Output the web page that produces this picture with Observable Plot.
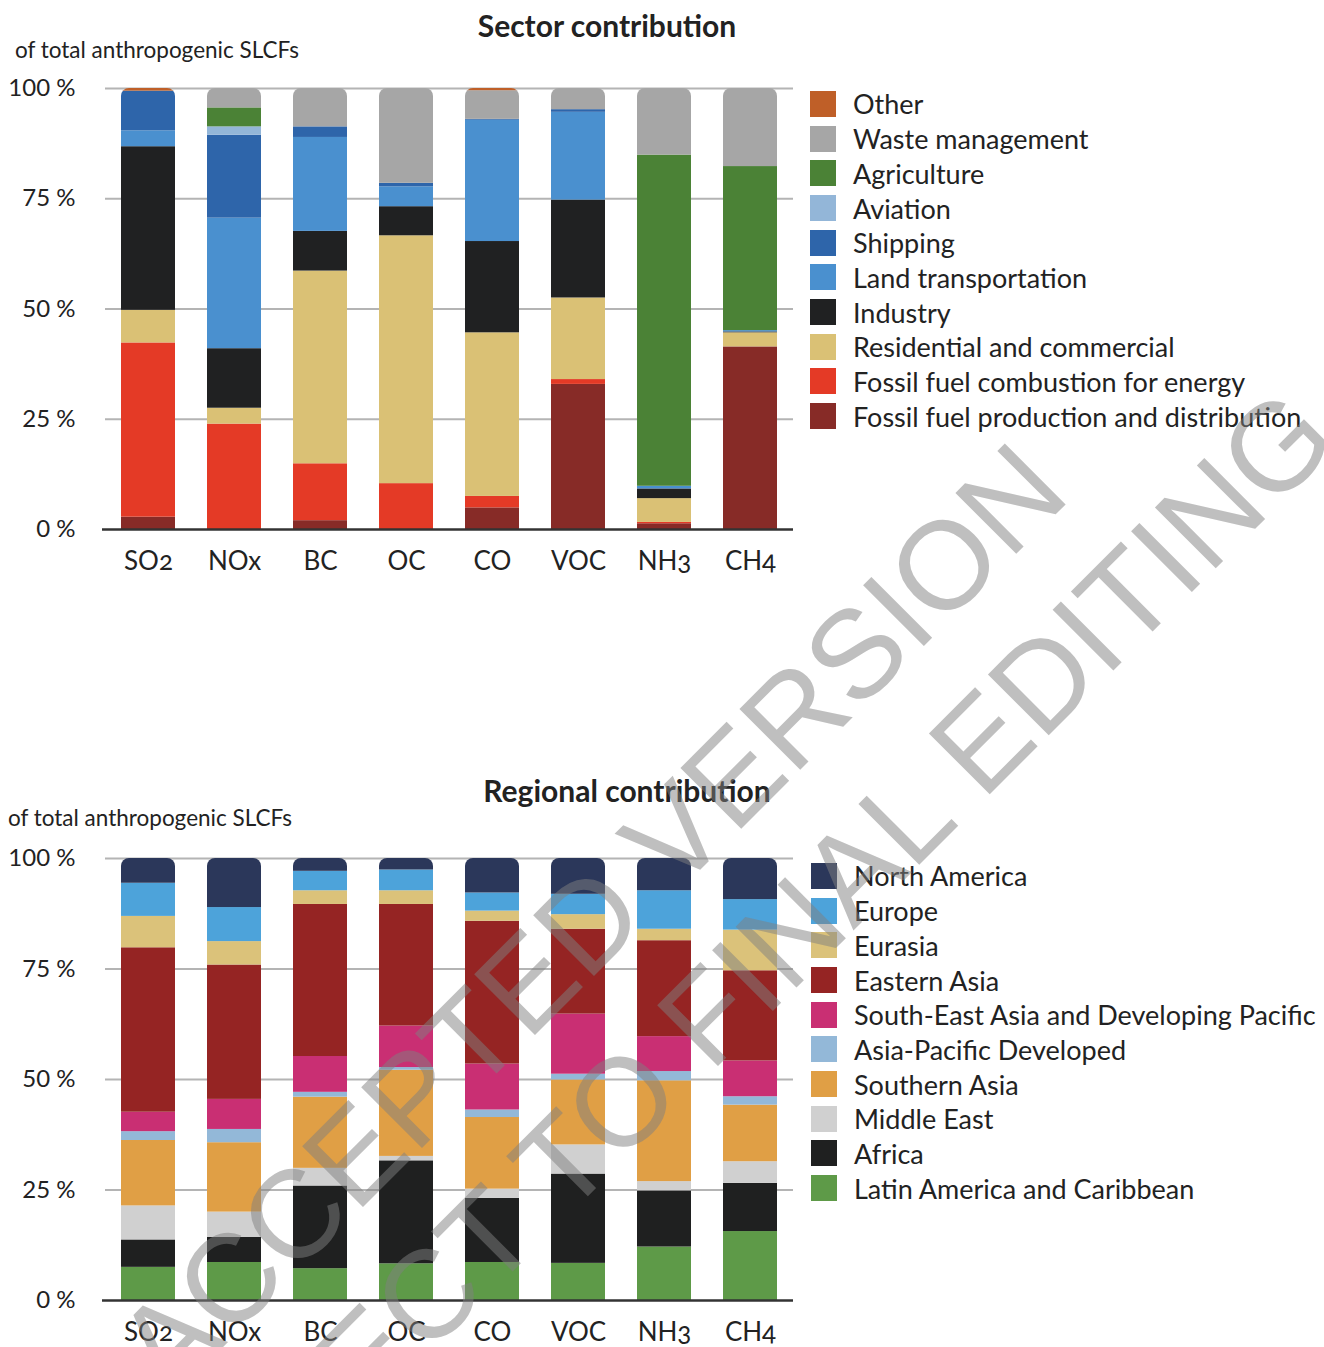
<!DOCTYPE html>
<html><head><meta charset="utf-8">
<script src="https://cdn.jsdelivr.net/npm/d3@7"></script>
<script src="https://cdn.jsdelivr.net/npm/@observablehq/plot@0.6"></script>
<style>
html,body{margin:0;padding:0;background:#fff;}
body{width:1324px;height:1347px;position:relative;overflow:hidden;font-family:Lato,"Noto Sans",sans-serif;color:#222;}
.title{position:absolute;font-weight:bold;font-size:30px;line-height:30px;transform:translateX(-50%);white-space:nowrap;}
.sub{position:absolute;font-size:22.5px;line-height:22.5px;white-space:nowrap;}
.chart{position:absolute;left:0;}
.legend{position:absolute;}
.legend .row{display:flex;align-items:center;height:34.7px;}
.legend .sw{width:26px;height:26px;margin-right:17px;flex:none;}
.legend .lab{font-size:27px;white-space:nowrap;}
.wm{position:absolute;left:0;top:0;pointer-events:none;}
</style></head><body>
<div class="title" style="left:607px;top:10px">Sector contribution</div>
<div class="sub" style="left:15px;top:39px">of total anthropogenic SLCFs</div>
<div id="c1" class="chart" style="top:60px"></div>
<div id="l1" class="legend" style="left:810px;top:86.6px"></div>
<div class="title" style="left:627px;top:775px">Regional contribution</div>
<div class="sub" style="left:8px;top:807px">of total anthropogenic SLCFs</div>
<div id="c2" class="chart" style="top:830px"></div>
<div id="l2" class="legend" style="left:811px;top:858.6px"></div>
<svg class="wm" width="1324" height="1347">
  <g font-family="'Liberation Sans', Arial, sans-serif" font-size="125" fill="#808080" fill-opacity="0.5" text-anchor="middle">
    <text transform="translate(621,949) rotate(-45)">ACCEPTED VERSION</text>
    <text transform="translate(741,1043) rotate(-45)">SUBJECT TO FINAL EDITING</text>
  </g>
</svg>
<script>
// ---- categories ----
const pollutants = ["SO2", "NOx", "BC", "OC", "CO", "VOC", "NH3", "CH4"];
const yTicks = [0, 25, 50, 75, 100];

// ---- sectors (stack order bottom -> top) ----
const sectors = ["Fossil fuel production and distribution", "Fossil fuel combustion for energy",
  "Residential and commercial", "Industry", "Land transportation", "Shipping", "Aviation",
  "Agriculture", "Waste management", "Other"];
const sectorColors = ["#872b27", "#e43a26", "#dac175", "#202122", "#4a90cf", "#2e65aa",
  "#93b6d8", "#4b8236", "#a6a6a6", "#bf5f28"];
const sectorSO2 = [2.8, 39.5, 7.4, 37.1, 3.6, 9.0, 0, 0, 0, 0.6];
const sectorNOx = [0, 23.9, 3.6, 13.5, 29.6, 18.8, 1.9, 4.3, 4.4, 0];
const sectorBC  = [2.0, 12.9, 43.7, 9.0, 21.3, 2.4, 0, 0, 8.7, 0];
const sectorOC  = [0, 10.4, 56.2, 6.6, 4.5, 0.8, 0, 0, 21.5, 0];
const sectorCO  = [4.9, 2.6, 37.1, 20.7, 27.5, 0.2, 0, 0, 6.5, 0.5];
const sectorVOC = [32.9, 1.1, 18.5, 22.2, 19.9, 0.6, 0, 0, 4.8, 0];
const sectorNH3 = [1.3, 0.3, 5.4, 2.2, 0.6, 0, 0, 75.1, 15.1, 0];
const sectorCH4 = [41.4, 0, 3.2, 0.2, 0.3, 0, 0, 37.2, 17.7, 0];

// ---- regions (stack order bottom -> top) ----
const regions = ["Latin America and Caribbean", "Africa", "Middle East", "Southern Asia",
  "Asia-Pacific Developed", "South-East Asia and Developing Pacific", "Eastern Asia",
  "Eurasia", "Europe", "North America"];
const regionColors = ["#5e9a48", "#1f2020", "#d0d0d0", "#e09f45", "#93b8d8", "#c92f73",
  "#952423", "#dbc27a", "#4da3da", "#2b375a"];
const regionSO2 = [7.5, 6.2, 7.7, 14.8, 2.0, 4.4, 37.2, 7.1, 7.5, 5.6];
const regionNOx = [8.6, 5.7, 5.7, 15.7, 3.0, 6.8, 30.4, 5.3, 7.7, 11.1];
const regionBC  = [7.2, 18.7, 4.0, 16.1, 1.1, 8.1, 34.4, 3.1, 4.4, 2.9];
const regionOC  = [8.3, 23.3, 1.0, 19.5, 0.6, 9.4, 27.5, 3.1, 4.7, 2.6];
const regionCO  = [8.6, 14.5, 2.1, 16.2, 1.7, 10.4, 32.3, 2.3, 4.1, 7.8];
const regionVOC = [8.4, 20.2, 6.6, 14.7, 1.3, 13.6, 19.2, 3.3, 4.6, 8.1];
const regionNH3 = [12.1, 12.7, 2.1, 22.8, 2.1, 7.9, 21.7, 2.6, 8.7, 7.3];
const regionCH4 = [15.6, 10.9, 4.9, 12.8, 1.9, 8.1, 20.4, 9.2, 6.9, 9.3];

function toRows(groups, valueLists) {
  const rows = [];
  pollutants.forEach((p, i) => valueLists[i].forEach((v, j) => rows.push({pollutant: p, group: groups[j], value: v})));
  return rows;
}

function roundTops(svg, r) {
  const rects = Array.from(svg.querySelectorAll('g[aria-label="bar"] rect'));
  const byX = d3.group(rects, el => el.getAttribute("x"));
  const ns = "http://www.w3.org/2000/svg";
  let defs = svg.querySelector("defs");
  if (!defs) { defs = document.createElementNS(ns, "defs"); svg.insertBefore(defs, svg.firstChild); }
  let k = 0;
  const uid = "c" + Math.random().toString(36).slice(2, 8);
  for (const [x, els] of byX) {
    const x0 = +x, w = +els[0].getAttribute("width");
    const top = d3.min(els, e => +e.getAttribute("y"));
    const bot = d3.max(els, e => +e.getAttribute("y") + +e.getAttribute("height"));
    const id = uid + "-" + (k++);
    const cp = document.createElementNS(ns, "clipPath");
    cp.setAttribute("id", id);
    const path = document.createElementNS(ns, "path");
    path.setAttribute("d", `M${x0},${bot}V${top + r}A${r},${r} 0 0 1 ${x0 + r},${top}H${x0 + w - r}A${r},${r} 0 0 1 ${x0 + w},${top + r}V${bot}Z`);
    cp.appendChild(path);
    defs.appendChild(cp);
    els.forEach(e => e.setAttribute("clip-path", `url(#${id})`));
  }
}

function makeChart(groups, colors, valueLists, height, marginBottom) {
  const svg = Plot.plot({
    width: 800, height, marginLeft: 105, marginRight: 7, marginTop: 28, marginBottom,
    style: {fontFamily: "Lato, 'Noto Sans', sans-serif", color: "#222", background: "transparent", fontVariantNumeric: "oldstyle-nums", overflow: "visible"},
    x: {domain: pollutants, paddingInner: 0.37, paddingOuter: 0.185, label: null},
    y: {domain: [0, 100], label: null},
    color: {domain: groups, range: colors},
    marks: [
      Plot.ruleY(yTicks.filter(d => d > 0), {stroke: "#b4b4b4", strokeWidth: 2}),
      Plot.barY(toRows(groups, valueLists), {x: "pollutant", y: "value", fill: "group", order: groups}),
      Plot.ruleY([0], {stroke: "#333", strokeWidth: 2.5, insetLeft: -3}),
      Plot.axisY({ticks: yTicks, tickFormat: d => d + " %", tickSize: 0, tickPadding: 30, fontSize: 24, label: null}),
      Plot.axisX({tickSize: 0, tickPadding: 22, fontSize: 26, label: null})
    ]
  });
  roundTops(svg, 8);
  return svg;
}

function makeLegend(el, groups, colors) {
  for (let i = groups.length - 1; i >= 0; i--) {
    const row = document.createElement("div");
    row.className = "row";
    const sw = document.createElement("div");
    sw.className = "sw";
    sw.style.background = colors[i];
    const lab = document.createElement("div");
    lab.className = "lab";
    lab.textContent = groups[i];
    row.appendChild(sw); row.appendChild(lab);
    el.appendChild(row);
  }
}

document.getElementById("c1").appendChild(
  makeChart(sectors, sectorColors, [sectorSO2, sectorNOx, sectorBC, sectorOC, sectorCO, sectorVOC, sectorNH3, sectorCH4], 540, 71));
document.getElementById("c2").appendChild(
  makeChart(regions, regionColors, [regionSO2, regionNOx, regionBC, regionOC, regionCO, regionVOC, regionNH3, regionCH4], 517, 47));
makeLegend(document.getElementById("l1"), sectors, sectorColors);
makeLegend(document.getElementById("l2"), regions, regionColors);
</script>
</body></html>
